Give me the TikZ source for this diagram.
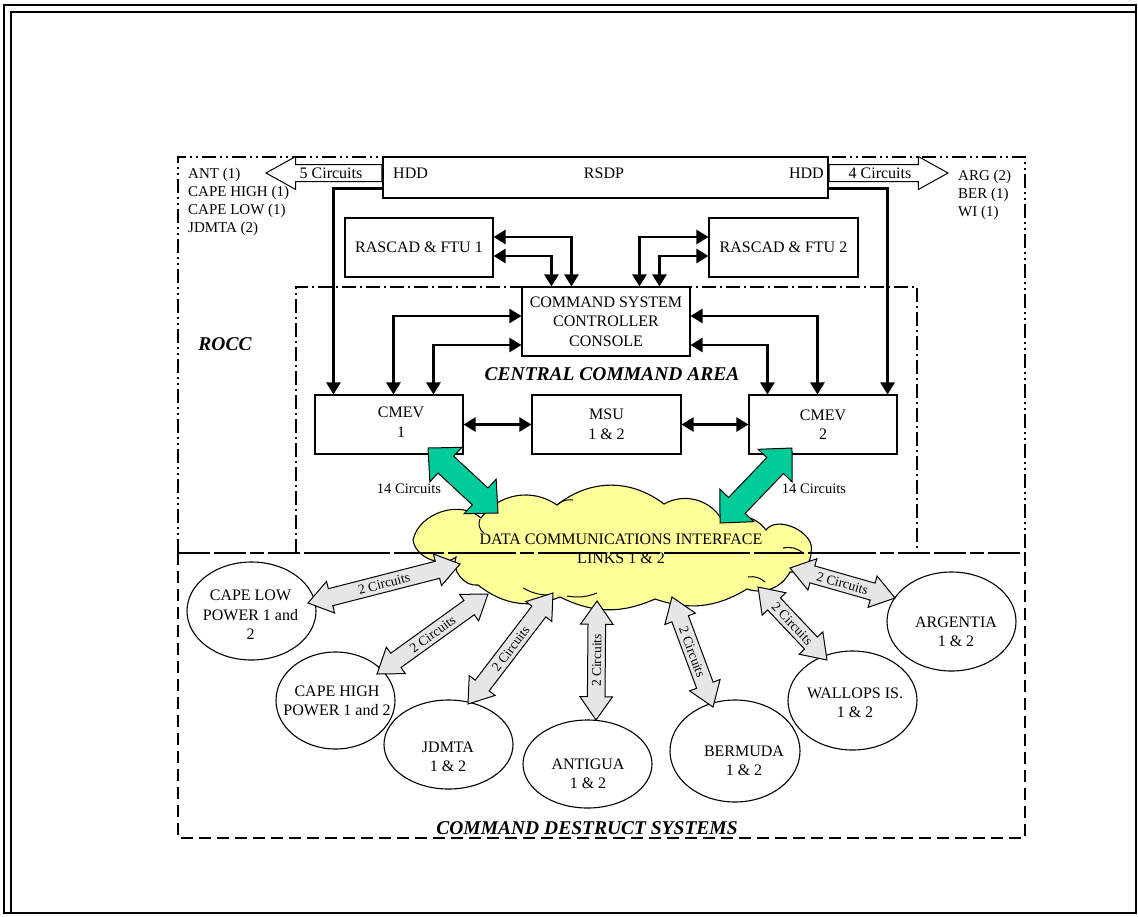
\documentclass[tikz,border=0pt]{standalone}
\usepackage{fontspec}
\setmainfont{Liberation Serif}
\usetikzlibrary{arrows.meta,shapes.geometric,shapes.arrows,calc}
\definecolor{cloudy}{HTML}{FFFF99}
\definecolor{tealg}{HTML}{00CC99}
\definecolor{lgray}{HTML}{E6E6E6}
\newcommand\fatarrow[4]{\path let \p1=($(#3)-(#2)$), \n1={atan2(\y1,\x1)}, \n2={veclen(\x1,\y1)} in node[#1, minimum height=\n2, rotate=\n1] at ($(#2)!0.5!(#3)$) {#4};}
\begin{document}
\begin{tikzpicture}[x=1pt,y=-1pt,
  every node/.style={inner sep=0pt},
  f16/.style={font=\fontsize{16}{19.5}\selectfont},
  f15/.style={font=\fontsize{15}{18}\selectfont},
  box/.style={draw, line width=1.1pt, fill=white, f16, align=center},
  ell/.style={draw, ellipse, line width=1.1pt, fill=white},
  txt/.style={f16, align=center},
  ttl/.style={font=\fontsize{19.5}{22}\selectfont\bfseries\itshape},
  conn/.style={line width=2.6pt},
  hd/.style={-{Triangle[length=12pt,width=14pt]}},
  hdd/.style={{Triangle[length=12pt,width=14pt]}-{Triangle[length=12pt,width=14pt]}},
  grayarr/.style={double arrow, draw, line width=1pt, fill=lgray, double arrow head extend=7.5pt, double arrow tip angle=70, inner xsep=0pt, inner ysep=3.6pt, text height=9.4pt, text depth=0pt, font=\fontsize{13.5}{14}\selectfont},
  greenarr/.style={double arrow, draw, line width=1pt, fill=tealg, double arrow head extend=12pt, double arrow tip angle=88, inner xsep=0pt, inner ysep=11pt},
  hollow/.style={single arrow, draw, line width=1pt, fill=white, single arrow head extend=8pt, single arrow tip angle=58, inner xsep=0pt, inner ysep=8pt},
  rocc/.style={line width=2pt, dash pattern=on 14pt off 4pt on 2pt off 4pt on 2pt off 4pt},
  cca/.style={line width=2pt, dash pattern=on 14pt off 4pt on 2pt off 4pt},
  cds/.style={line width=2pt, dash pattern=on 12pt off 6pt}
]
\useasboundingbox (0,0) rectangle (1138,916);
% page frame
\draw[line width=2pt] (4,5) rectangle (1135.5,913);
\draw[line width=1.2pt] (11,913) -- (11,12) -- (1135.5,12);

% cloud
\draw[line width=1.1pt, fill=cloudy] (413,540) to[bend left=60] (481,518) to[bend left=45] (557,505)
  to[bend left=38] (664,504) to[bend left=45] (722,520) to[bend left=40] (766,530)
  to[bend left=80] (811,552) to[bend left=50] (790,572) to[bend left=40] (747,589)
  to[bend left=25] (655,599) to[bend left=25] (560,597) to[bend left=30] (478,585)
  to[bend left=60] (456,557) to[bend left=60] (413,540) -- cycle;
\draw[line width=1pt] (480,519) to[bend right=40] (484,533);
\draw[line width=1pt] (557,505) to[bend left=25] (573,500);
\draw[line width=1pt] (783,548) to[bend left=25] (803,553);
\draw[line width=1pt] (748,577) to[bend left=25] (765,582);
\draw[line width=1pt] (523,588) to[bend right=15] (552,595);
\draw[line width=1pt] (567,596) to[bend right=15] (597,593);

% area borders
\draw[cds] (178,553) rectangle (1025,838);
\draw[rocc] (178,553) rectangle (1025,157);
\draw[cca] (296,553) rectangle (917,287);

% boxes
\node[box, minimum width=445pt, minimum height=41pt] (rsdp) at (605.5,177.5) {};
\node[box, minimum width=148pt, minimum height=59pt] (rascad1) at (419,247.5) {RASCAD \& FTU 1};
\node[box, minimum width=149pt, minimum height=59pt] (rascad2) at (783.5,247.5) {RASCAD \& FTU 2};
\node[box, minimum width=168pt, minimum height=69pt] (cscc) at (606,321.5) {COMMAND SYSTEM\\CONTROLLER\\CONSOLE};
\node[box, minimum width=148pt, minimum height=59pt] (cmev1) at (389,424.5) {};
\node[box, minimum width=149pt, minimum height=59pt] (msu) at (606.5,424.5) {MSU\\1 \& 2};
\node[box, minimum width=148pt, minimum height=59pt] (cmev2) at (823,424.5) {CMEV\\2};
\node[txt] (cmev1t) at (401,422) {CMEV\\1};
\node[txt] (rsdpt) at (604,173) {RSDP};
\node[txt, anchor=west] (hddl) at (393,173) {HDD};
\node[txt, anchor=east] (hddr) at (824,173) {HDD};

% hollow circuit arrows
\node[hollow, shape border rotate=180, minimum height=116pt, anchor=tail] (arrl) at ([yshift=4.5pt]rsdp.west) {};
\node[hollow, minimum height=119pt, anchor=tail] (arrr) at ([yshift=4.5pt]rsdp.east) {};
\node[f16] (c5) at (331,173) {5 Circuits};
\node[f16] (c4) at (880,173) {4 Circuits};

% connectors
\draw[conn,hd] ([yshift=10pt]rsdp.south west) -| ($(cmev1.north west)+(19,0)$);
\draw[conn,hd] ([yshift=10pt]rsdp.south east) -| ($(cmev2.north east)+(-10,0)$);
\draw[conn,hdd] ([yshift=10.5pt]rascad1.east) -| ($(cscc.north west)+(50,0)$);
\draw[conn,hdd] ([yshift=-8.5pt]rascad1.east) -| ($(cscc.north west)+(30,0)$);
\draw[conn,hdd] ([yshift=10.5pt]rascad2.west) -| ($(cscc.north west)+(118,0)$);
\draw[conn,hdd] ([yshift=-8.5pt]rascad2.west) -| ($(cscc.north west)+(138,0)$);
\draw[conn,hdd] ([yshift=5.5pt]cscc.west) -| ($(cmev1.north west)+(79,0)$);
\draw[conn,hdd] ([yshift=-23.5pt]cscc.west) -| ($(cmev1.north west)+(119,0)$);
\draw[conn,hdd] ([yshift=5.5pt]cscc.east) -| ($(cmev2.north west)+(69,0)$);
\draw[conn,hdd] ([yshift=-23.5pt]cscc.east) -| ($(cmev2.north west)+(19,0)$);
\draw[conn,hdd] (cmev1.east) -- (msu.west);
\draw[conn,hdd] (msu.east) -- (cmev2.west);

% green arrows
\coordinate (g1a) at (428,448);
\coordinate (g1b) at (498,513);
\coordinate (g2a) at (720,523);
\coordinate (g2b) at (792,448);
\fatarrow{greenarr}{g1a}{g1b}{}
\fatarrow{greenarr}{g2a}{g2b}{}
\node[font=\fontsize{14.5}{16}\selectfont] (c14l) at (409,489) {14 Circuits};
\node[font=\fontsize{14.5}{16}\selectfont] (c14r) at (814,489) {14 Circuits};

% ellipses
\node[ell, minimum width=129pt, minimum height=98pt] (clow) at (251.5,611) {};
\node[ell, minimum width=119pt, minimum height=97pt] (chigh) at (335.5,700.5) {};
\node[ell, minimum width=129pt, minimum height=89pt] (jdmta) at (448.5,744.5) {};
\node[ell, minimum width=129pt, minimum height=88pt] (antigua) at (587.5,764) {};
\node[ell, minimum width=130pt, minimum height=102pt] (bermuda) at (735,751) {};
\node[ell, minimum width=129pt, minimum height=99pt] (wallops) at (852.5,700.5) {};
\node[ell, minimum width=129pt, minimum height=99pt] (argentia) at (951.5,621.5) {};

% gray arrows
\coordinate (a1) at (308,603); \coordinate (b1) at (460,564);
\coordinate (a2) at (377,674); \coordinate (b2) at (488,594);
\coordinate (a3) at (468,704); \coordinate (b3) at (553,593);
\coordinate (a4) at (596,720); \coordinate (b4) at (597,601);
\coordinate (a5) at (672,597); \coordinate (b5) at (713,707);
\coordinate (a6) at (758,587); \coordinate (b6) at (827,660);
\coordinate (a7) at (790,568); \coordinate (b7) at (895,598);
\fatarrow{grayarr}{a1}{b1}{2 Circuits}
\fatarrow{grayarr}{a2}{b2}{2 Circuits}
\fatarrow{grayarr}{a3}{b3}{2 Circuits}
\fatarrow{grayarr}{a4}{b4}{2 Circuits}
\fatarrow{grayarr}{a5}{b5}{2 Circuits}
\fatarrow{grayarr}{a6}{b6}{2 Circuits}
\fatarrow{grayarr}{a7}{b7}{2 Circuits}

% texts
\node[txt] (dcil) at (621,549) {DATA COMMUNICATIONS INTERFACE\\LINKS 1 \& 2};
\node[txt] (clowt) at (250.5,615) {CAPE LOW\\POWER 1 and\\2};
\node[txt] (chight) at (337,701) {CAPE HIGH\\POWER 1 and 2};
\node[txt] (jdmtat) at (448,757) {JDMTA\\1 \& 2};
\node[txt] (antiguat) at (588,774) {ANTIGUA\\1 \& 2};
\node[txt] (bermudat) at (744,761) {BERMUDA\\1 \& 2};
\node[txt] (wallopst) at (855,703) {WALLOPS IS.\\1 \& 2};
\node[txt] (argentiat) at (956,632) {ARGENTIA\\1 \& 2};

\node[ttl] (roccl) at (225,344) {ROCC};
\node[ttl] (ccal) at (612,374) {CENTRAL COMMAND AREA};
\node[ttl] (cdsl) at (587,828) {COMMAND DESTRUCT SYSTEMS};

\node[f15, anchor=base west] (l1) at (188,178) {ANT (1)};
\node[f15, anchor=base west] (l2) at (188,196.3) {CAPE HIGH (1)};
\node[f15, anchor=base west] (l3) at (188,214.6) {CAPE LOW (1)};
\node[f15, anchor=base west] (l4) at (188,232.9) {JDMTA (2)};
\node[f15, anchor=base west] (r1) at (958,180) {ARG (2)};
\node[f15, anchor=base west] (r2) at (958,198.3) {BER (1)};
\node[f15, anchor=base west] (r3) at (958,216.6) {WI (1)};
\end{tikzpicture}
\end{document}
